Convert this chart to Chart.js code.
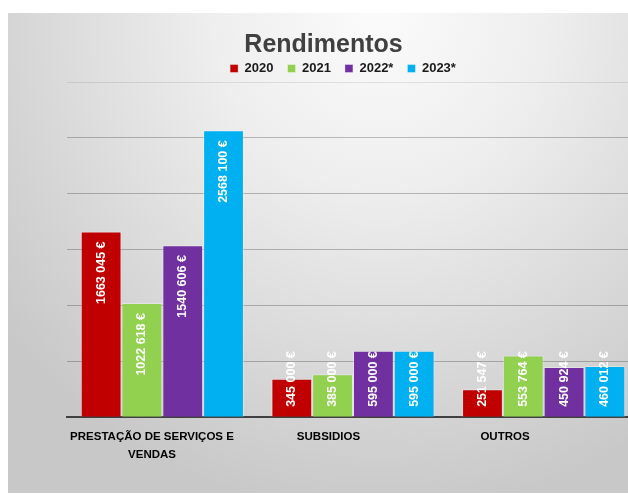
<!DOCTYPE html>
<html>
<head>
<meta charset="utf-8">
<script src="https://cdn.jsdelivr.net/npm/chart.js@4.4.1/dist/chart.umd.min.js"></script>
<style>
html, body { margin: 0; padding: 0; background: #fff; overflow: hidden; }
#fundo {
    position: absolute; left: 8px; top: 13px; width: 640px; height: 480px;
    background: radial-gradient(ellipse 75% 105% at 58% 0%, #fbfbfb 0%, #eeeeee 35%, #d8d8d8 72%, #c8c8c8 100%);
}
#grafico { position: absolute; left: 0; top: 0; }
</style>
</head>
<body>
<div id="fundo"></div>
<canvas id="grafico" width="640" height="494"></canvas>
<script>
/* Dados */
const categorias = [["PRESTAÇÃO DE SERVIÇOS E", "VENDAS"], "SUBSIDIOS", "OUTROS"];
const anos = ["2020", "2021", "2022*", "2023*"];
const valores2020 = [1663045, 345000, 251547];
const valores2021 = [1022618, 385000, 553764];
const valores2022 = [1540606, 595000, 450924];
const valores2023 = [2568100, 595000, 460012];
const cores = ["#C00000", "#92D050", "#7030A0", "#00B0F0"];
const yMax = 3000000;
const yPasso = 500000;

const fonte = "'Liberation Sans', Arial, sans-serif";

/* 1663045 -> "1663 045 €" */
function formatar(v) {
    const s = String(v);
    return s.slice(0, -3) + " " + s.slice(-3) + " €";
}

/* Rotulos dentro das barras, na vertical */
const rotulos = {
    id: "rotulos",
    afterDatasetsDraw(chart) {
        const ctx = chart.ctx;
        ctx.save();
        ctx.font = "bold 12.5px " + fonte;
        ctx.fillStyle = "#ffffff";
        ctx.textBaseline = "middle";
        ctx.textAlign = "left";
        chart.data.datasets.forEach((ds, i) => {
            chart.getDatasetMeta(i).data.forEach((barra, j) => {
                const txt = formatar(ds.data[j]);
                const w = ctx.measureText(txt).width;
                let inicio = barra.y + 10 + w;
                if (inicio > barra.base - 10) inicio = barra.base - 10;
                ctx.save();
                ctx.translate(barra.x, inicio);
                ctx.rotate(-Math.PI / 2);
                ctx.fillText(txt, 0, 0);
                ctx.restore();
            });
        });
        ctx.restore();
    }
};

/* Legenda um pouco mais abaixo e a esquerda */
const moverLegenda = {
    id: "moverLegenda",
    afterLayout(chart) {
        const l = chart.legend;
        l.top += 3;
        l.bottom += 3;
        l.left -= 10;
        l.right -= 10;
    }
};

const series = [valores2020, valores2021, valores2022, valores2023];

new Chart(document.getElementById("grafico").getContext("2d"), {
    type: "bar",
    data: {
        labels: categorias,
        datasets: series.map((valores, i) => ({
            label: anos[i],
            data: valores,
            backgroundColor: cores[i],
            borderColor: "rgba(255,255,255,0.35)",
            borderWidth: 1,
            categoryPercentage: 0.856,
            barPercentage: 1
        }))
    },
    options: {
        responsive: false,
        animation: false,
        events: [],
        layout: { padding: { left: 8, right: 1, top: 13, bottom: 19 } },
        plugins: {
            title: {
                display: true,
                text: "Rendimentos",
                color: "#404040",
                font: { family: fonte, size: 25, weight: "bold", lineHeight: 1.2 },
                padding: { top: 17, bottom: -15 }
            },
            legend: {
                position: "top",
                fullSize: false,
                labels: {
                    boxWidth: 8,
                    boxHeight: 8,
                    padding: 14,
                    color: "#1a1a1a",
                    font: { family: fonte, size: 13, weight: "bold" }
                }
            },
            tooltip: { enabled: false }
        },
        scales: {
            x: {
                type: "category",
                grid: { display: false, drawTicks: false },
                border: { display: true, color: "#404040", width: 2 },
                ticks: { display: false }
            },
            /* eixo so para os nomes das categorias, um pouco deslocados como no original */
            xl: {
                type: "linear",
                position: "bottom",
                offset: false,
                bounds: "data",
                min: -0.4816,
                max: 2.7592,
                grid: { display: false, drawTicks: false, offset: false },
                border: { display: false },
                afterBuildTicks: (eixo) => {
                    eixo.ticks = categorias.map((c, i) => ({ value: i }));
                },
                ticks: {
                    padding: 11,
                    maxRotation: 0,
                    autoSkip: false,
                    color: "#000000",
                    font: { family: fonte, size: 11.5, weight: "bold", lineHeight: 1.55 },
                    callback: (v) => categorias[v]
                }
            },
            y: {
                min: 0,
                max: yMax,
                ticks: { display: false, stepSize: yPasso },
                grid: {
                    drawTicks: false,
                    color: (c) => c.tick && c.tick.value === yMax ? "rgba(0,0,0,0.09)" : "rgba(0,0,0,0.24)"
                },
                border: { display: false },
                afterFit: (eixo) => { eixo.width = 59; }
            }
        }
    },
    plugins: [rotulos, moverLegenda]
});
</script>
</body>
</html>
